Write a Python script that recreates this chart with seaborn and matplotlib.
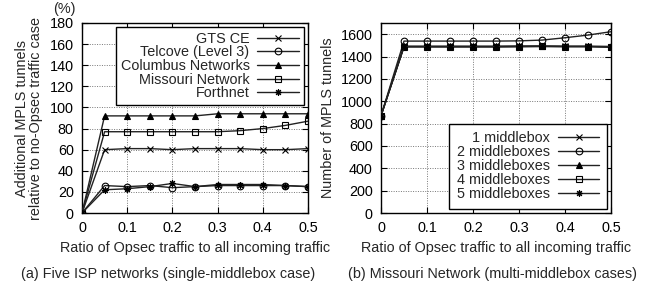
import numpy as np
import pandas as pd
import matplotlib
matplotlib.use("Agg")
import matplotlib.pyplot as plt
import seaborn as sns

# ---- data ----
ratio = [0, 0.05, 0.1, 0.15, 0.2, 0.25, 0.3, 0.35, 0.4, 0.45, 0.5]

isp_names = ["GTS CE", "Telcove (Level 3)", "Columbus Networks", "Missouri Network", "Forthnet"]
gts_ce = [0, 60, 61, 61, 60, 61, 61, 61, 60, 60, 61]
telcove = [0, 26, 25, 26, 24, 25, 26, 26, 26, 26, 25]
columbus = [0, 92, 92, 92, 92, 92, 94, 94, 94, 94, 94]
missouri = [0, 77, 77, 77, 77, 77, 77, 78, 80, 83, 87]
forthnet = [0, 22, 23, 25, 28, 25, 27, 27, 27, 26, 25]

mb_names = ["1 middlebox", "2 middleboxes", "3 middleboxes", "4 middleboxes", "5 middleboxes"]
mb1 = [870, 1490, 1490, 1490, 1490, 1490, 1490, 1490, 1490, 1490, 1482]
mb2 = [870, 1538, 1538, 1538, 1538, 1538, 1540, 1547, 1568, 1592, 1622]
mb3 = [870, 1492, 1492, 1492, 1492, 1492, 1494, 1494, 1492, 1492, 1490]
mb4 = [870, 1486, 1486, 1486, 1486, 1486, 1488, 1490, 1488, 1488, 1486]
mb5 = [870, 1488, 1488, 1488, 1488, 1488, 1490, 1492, 1490, 1490, 1488]

xticks = [0, 0.1, 0.2, 0.3, 0.4, 0.5]
xticklabels = ["0", "0.1", "0.2", "0.3", "0.4", "0.5"]
left_yticks = list(range(0, 181, 20))
right_yticks = list(range(0, 1601, 200))

sns.set_style("ticks")
plt.rcParams["font.family"] = ["Liberation Sans", "DejaVu Sans"]
FS = 10.4
plt.rcParams["font.size"] = FS

markers = ["x", "o", "^", "s", (8, 2, 0)]
fills = ["black", "none", "black", "none", "black"]

fig = plt.figure(figsize=(6.64, 2.87), dpi=100)
axL = fig.add_axes([0.1235, 0.2578, 0.3404, 0.6621])
axR = fig.add_axes([0.5738, 0.2578, 0.3464, 0.6621])


def draw(ax, names, series):
    for name, vals, m, fc in zip(names, series, markers, fills):
        df = pd.DataFrame({"x": ratio, "y": vals})
        sns.lineplot(data=df, x="x", y="y", ax=ax, color="#222222", lw=1.0,
                     marker=m, markersize=4.8, markerfacecolor=fc,
                     markeredgecolor="black", markeredgewidth=0.8,
                     label=name, zorder=3)


draw(axL, isp_names, [gts_ce, telcove, columbus, missouri, forthnet])
draw(axR, mb_names, [mb1, mb2, mb3, mb4, mb5])

for ax, yt, ylim in [(axL, left_yticks, (0, 180)), (axR, right_yticks, (0, 1700))]:
    ax.set_xlim(0, 0.5)
    ax.set_ylim(*ylim)
    ax.set_xticks(xticks)
    ax.set_xticklabels(xticklabels)
    ax.set_yticks(yt)
    ax.tick_params(direction="in", top=True, right=True, length=4, width=0.8,
                   labelsize=FS, pad=6, colors="black")
    ax.grid(True, linestyle=(0, (1, 1.5)), color="#777777", lw=0.7)
    for s in ax.spines.values():
        s.set_linewidth(1.0)
        s.set_color("black")
    ax.set_xlabel("Ratio of Opsec traffic to all incoming traffic", fontsize=FS, labelpad=4)

axL.set_ylabel("Additional MPLS tunnels\nrelative to no-Opsec traffic case", fontsize=FS,
               labelpad=5, linespacing=0.95)
axR.set_ylabel("Number of MPLS tunnels", fontsize=FS, labelpad=4)

fig.text(0.097, 0.97, "(%)", fontsize=FS, ha="center", va="center")
fig.text(0.253, 0.045, "(a) Five ISP networks (single-middlebox case)", fontsize=FS, ha="center", va="center")
fig.text(0.742, 0.045, "(b) Missouri Network (multi-middlebox cases)", fontsize=FS, ha="center", va="center")

legkw = dict(markerfirst=False, frameon=True, fancybox=False, fontsize=FS,
             handlelength=2.9, handletextpad=0.55, edgecolor="black", framealpha=1)
legL = axL.legend(loc="upper right", labelspacing=-0.02, borderpad=0.3,
                  borderaxespad=0.3, **legkw)
legR = axR.legend(loc="lower right", labelspacing=0.0, borderpad=0.5,
                  borderaxespad=0.3, **legkw)
for leg in (legL, legR):
    leg.get_frame().set_linewidth(1.0)

fig.savefig("out.png", dpi=100)
